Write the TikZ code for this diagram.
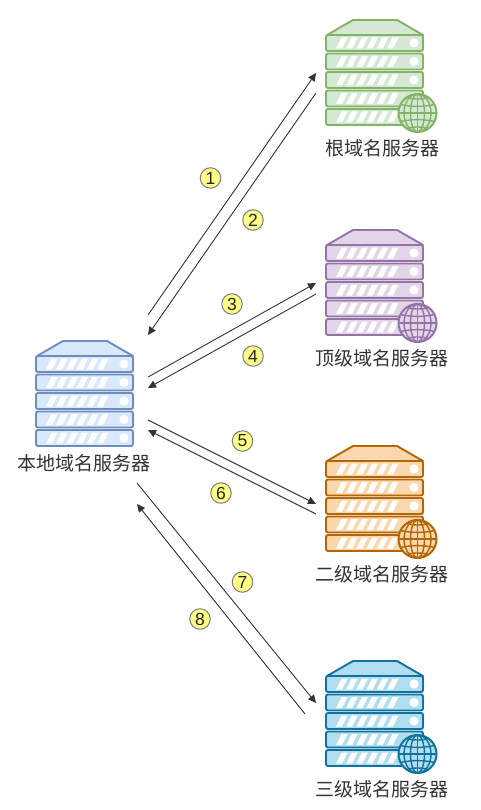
\documentclass[tikz,border=0pt]{standalone}
\usepackage{fontspec}
\setmainfont{Liberation Sans}
\newfontfamily\cjk{Noto Sans CJK SC}
\usetikzlibrary{arrows.meta}
\definecolor{gf}{HTML}{D5E8D4}\definecolor{gs}{HTML}{82B366}
\definecolor{pf}{HTML}{E1D5E7}\definecolor{ps}{HTML}{9673A6}
\definecolor{of}{HTML}{FAD7AC}\definecolor{os}{HTML}{B46504}
\definecolor{bf}{HTML}{DAE8FC}\definecolor{bs}{HTML}{6C8EBF}
\definecolor{cf}{HTML}{B1DDF0}\definecolor{cs}{HTML}{10739E}
\definecolor{badgefill}{HTML}{FFFF88}\definecolor{badgeline}{HTML}{7F7F7F}
\definecolor{labeltext}{HTML}{333333}
\tikzset{
  x=1pt,y=-1pt,
  srvlabel/.style={font=\cjk\fontsize{19}{21}\selectfont,text=labeltext,inner sep=0pt},
  badge/.style={circle,draw=badgeline,fill=badgefill,line width=1pt,minimum size=20.5pt,inner sep=0pt,
    font=\fontsize{17.5}{17.5}\selectfont,text=black!85},
  link/.style={draw=black!80,line width=0.9pt,-{Triangle[length=8pt,width=7.5pt]}},
  pics/rack/.style n args={2}{code={
    \path[draw=#2,fill=#1,line width=1.9pt,line join=round] (1,15) -- (27,0) -- (71,0) -- (97,15) -- cycle;
    \foreach \yy in {15,33.5,52,70.5,89}{
      \path[draw=#2,fill=#1,line width=1.9pt,rounded corners=2pt] (0,\yy) rectangle (97,\yy+16);
      \foreach \xx in {0,1,2,3,4,5}{
        \fill[white] (9+10.2*\xx+1,\yy+13.5) -- (9+10.2*\xx+7,\yy+13.5) -- (9+10.2*\xx+12.5,\yy+2.5) -- (9+10.2*\xx+6.5,\yy+2.5) -- cycle;
      }
      \fill[white] (88,\yy+8) circle (4.6);
    }
  }},
  pics/globe/.style n args={2}{code={
    \path[draw=#2,fill=#1,line width=2pt] (0,0) circle (19);
    \begin{scope}[draw=#2,line width=1.4pt]
      \draw (0,-19) -- (0,19);
      \draw (-19,0) -- (19,0);
      \draw (0,0) ellipse [x radius=7,y radius=19];
      \draw (0,0) ellipse [x radius=13.5,y radius=19];
      \draw (-17,-8.5) .. controls (-6,-6) and (6,-6) .. (17,-8.5);
      \draw (-17,8.5) .. controls (-6,6) and (6,6) .. (17,8.5);
      \draw (-11,-15.5) .. controls (-5,-13.5) and (5,-13.5) .. (11,-15.5);
      \draw (-11,15.5) .. controls (-5,13.5) and (5,13.5) .. (11,15.5);
    \end{scope}
  }}
}
\begin{document}
\begin{tikzpicture}
\useasboundingbox (0,0) rectangle (481,810);
% servers
\pic at (326,20) {rack={gf}{gs}};
\pic at (417.5,113) {globe={gf}{gs}};
\pic at (326,230) {rack={pf}{ps}};
\pic at (417.5,323) {globe={pf}{ps}};
\pic at (326,446) {rack={of}{os}};
\pic at (417.5,539) {globe={of}{os}};
\pic at (326,661) {rack={cf}{cs}};
\pic at (417.5,754) {globe={cf}{cs}};
\begin{scope}[shift={(36,341)},xscale=0.97]
  \pic {rack={bf}{bs}};
\end{scope}
% labels
\node[srvlabel] (root) at (382,148) {根域名服务器};
\node[srvlabel] (tld) at (382,358) {顶级域名服务器};
\node[srvlabel] (second) at (382,574) {二级域名服务器};
\node[srvlabel] (third) at (382,789) {三级域名服务器};
\node[srvlabel] (local) at (84,463) {本地域名服务器};
% connector ends
\coordinate (s1) at (148,315); \coordinate (t1) at (316,73);
\coordinate (s2) at (316,93);  \coordinate (t2) at (148,335);
\coordinate (s3) at (148,377); \coordinate (t3) at (316,283);
\coordinate (s4) at (316,294); \coordinate (t4) at (148,388);
\coordinate (s5) at (148,420); \coordinate (t5) at (316,504);
\coordinate (s6) at (316,514); \coordinate (t6) at (148,430);
\coordinate (s7) at (137,483); \coordinate (t7) at (316,703);
\coordinate (s8) at (305,714); \coordinate (t8) at (137,504);
\foreach \i in {1,...,8}{\draw[link] (s\i) -- (t\i);}
% badges
\node[badge] (b1) at (210.5,178) {1};
\node[badge] (b2) at (253,220) {2};
\node[badge] (b3) at (232,304) {3};
\node[badge] (b4) at (253,356) {4};
\node[badge] (b5) at (242.5,441) {5};
\node[badge] (b6) at (221,493) {6};
\node[badge] (b7) at (242.5,582) {7};
\node[badge] (b8) at (200,619) {8};
\end{tikzpicture}
\end{document}
